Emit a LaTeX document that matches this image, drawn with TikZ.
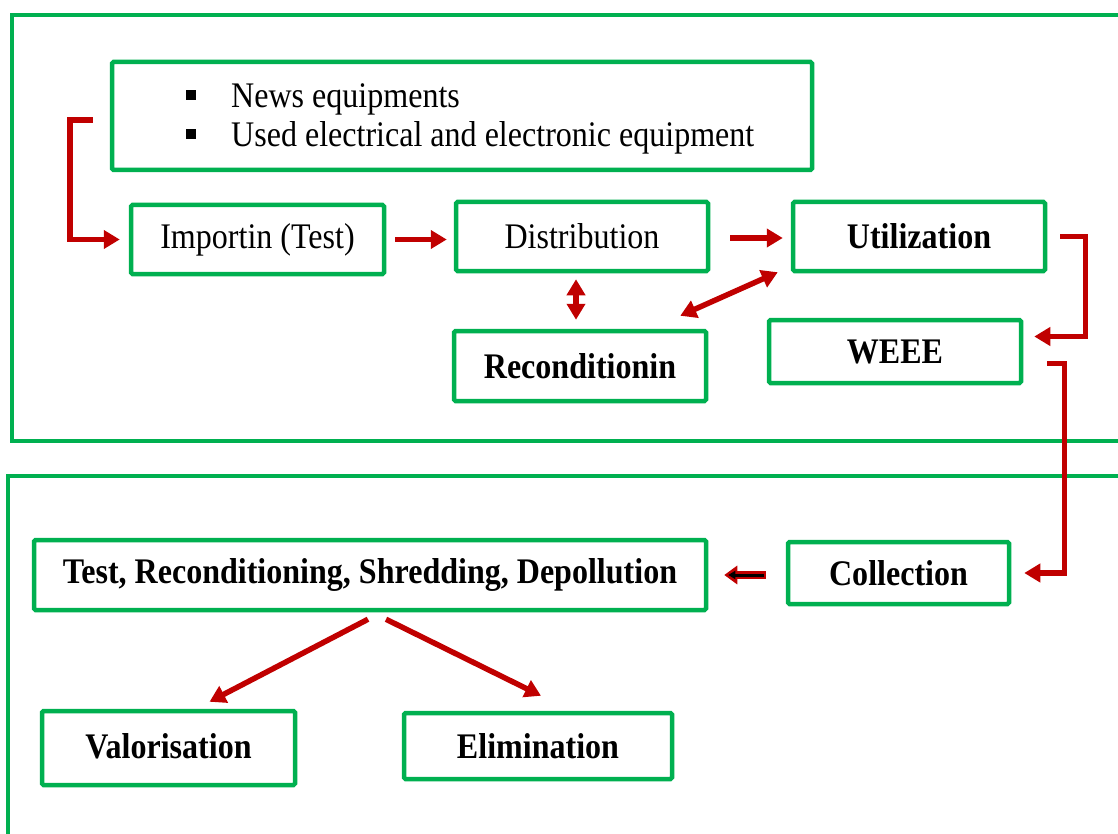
\documentclass[tikz,border=0pt]{standalone}
\usepackage{fontspec}
\setmainfont{Liberation Serif}[FakeStretch=0.89]
\usetikzlibrary{arrows.meta,calc}
\definecolor{gr}{HTML}{00B050}
\definecolor{rd}{HTML}{C00000}
\begin{document}
\begin{tikzpicture}[x=1pt,y=-1pt,
  box/.style={draw=gr, line width=4.5pt, rounded corners=1.5pt, inner sep=0pt, align=center,
    font=\fontsize{36}{39}\selectfont},
  bbox/.style={box, font=\fontsize{36}{39}\selectfont\bfseries},
  frame/.style={draw=gr, line width=4.5pt},
  arr/.style={draw=rd, line width=5.5pt, -{Triangle[length=16pt,width=18pt]}},
  darr/.style={draw=rd, line width=5.5pt, {Triangle[length=16pt,width=18pt]}-{Triangle[length=16pt,width=18pt]}},
  elbow/.style={arr, line join=miter}
]
\useasboundingbox (0,0) rectangle (1118,834);
% outer frames
\draw[frame] (1125,15) -- (12,15) -- (12,441) -- (1125,441);
\draw[frame] (1125,476) -- (8,476) -- (8,840);

% nodes
\node[box, minimum width=700pt, minimum height=108pt] (bul) at (462,116) {};
\node[inner sep=0pt, font=\fontsize{36}{39}\selectfont, anchor=west] (bultxt) at (186,119)
  {\begin{tabular}{@{}l@{\hspace{35pt}}l@{}}
   \rule[7pt]{10pt}{10pt} & News equipments\\
   \rule[7pt]{10pt}{10pt} & Used electrical and electronic equipment
   \end{tabular}};
\node[box, minimum width=253pt, minimum height=69pt] (imp) at (257.5,239.5) {Importin (Test)};
\node[box, minimum width=252pt, minimum height=69pt] (dist) at (582,236.5) {Distribution};
\node[bbox, minimum width=252pt, minimum height=69pt] (util) at (919,236.5) {Utilization};
\node[bbox, minimum width=252pt, minimum height=70pt] (rec) at (580,366) {Reconditionin};
\node[bbox, minimum width=252pt, minimum height=63pt] (weee) at (895,351.5) {WEEE};
\node[bbox, minimum width=672pt, minimum height=70pt] (test) at (370,575) {Test, Reconditioning, Shredding, Depollution};
\node[bbox, minimum width=221pt, minimum height=62pt] (coll) at (898.5,573) {Collection};
\node[bbox, minimum width=253pt, minimum height=74pt] (val) at (168.5,748) {\raisebox{3pt}{Valorisation}};
\node[bbox, minimum width=268pt, minimum height=66pt] (elim) at (538,746) {Elimination};

% connectors
\draw[elbow] ([xshift=-17pt,yshift=-4pt]bul.west) -- ++(-23,0) |- ([xshift=-9pt]imp.west);
\draw[arr] ([xshift=9pt]imp.east) -- ($(dist.west|-imp.east)+(-7,0)$);
\draw[arr] ([xshift=20pt,yshift=-1.5pt]dist.east) -- ([xshift=-8pt,yshift=-1.5pt]util.west);
\draw[darr] ([xshift=-6pt,yshift=-6pt]dist.south) -- ([xshift=-4pt,yshift=9pt]rec.north);
\draw[darr] ([xshift=-28pt,yshift=13pt]rec.north east) -- ([xshift=-13pt,yshift=1pt]util.south west);
\draw[elbow] ([xshift=13pt]util.east) -- ++(25,0) |- ([xshift=11pt,yshift=15pt]weee.east);
\draw[elbow] ([xshift=24pt,yshift=-12pt]weee.east) -- ++(17,0) |- ([xshift=13pt]coll.east);
\draw[draw=rd, line width=8pt, -{Triangle[length=13pt,width=18pt]}] ([xshift=-20pt,yshift=-2pt]coll.west) -- ($(test.east|-coll.west)+(16,2)$);
\draw[draw=black, line width=3pt, -{Triangle[length=7pt,width=8pt]}, shorten <=1.5pt, shorten >=4pt] ([xshift=-20pt,yshift=-2pt]coll.west) -- ($(test.east|-coll.west)+(16,2)$);
\draw[arr] ([xshift=-2pt,yshift=-7pt]test.south) -- ([xshift=41pt,yshift=7pt]val.north);
\draw[arr] ([xshift=16pt,yshift=-7pt]test.south) -- ([xshift=3pt,yshift=15pt]elim.north);
\end{tikzpicture}
\end{document}
